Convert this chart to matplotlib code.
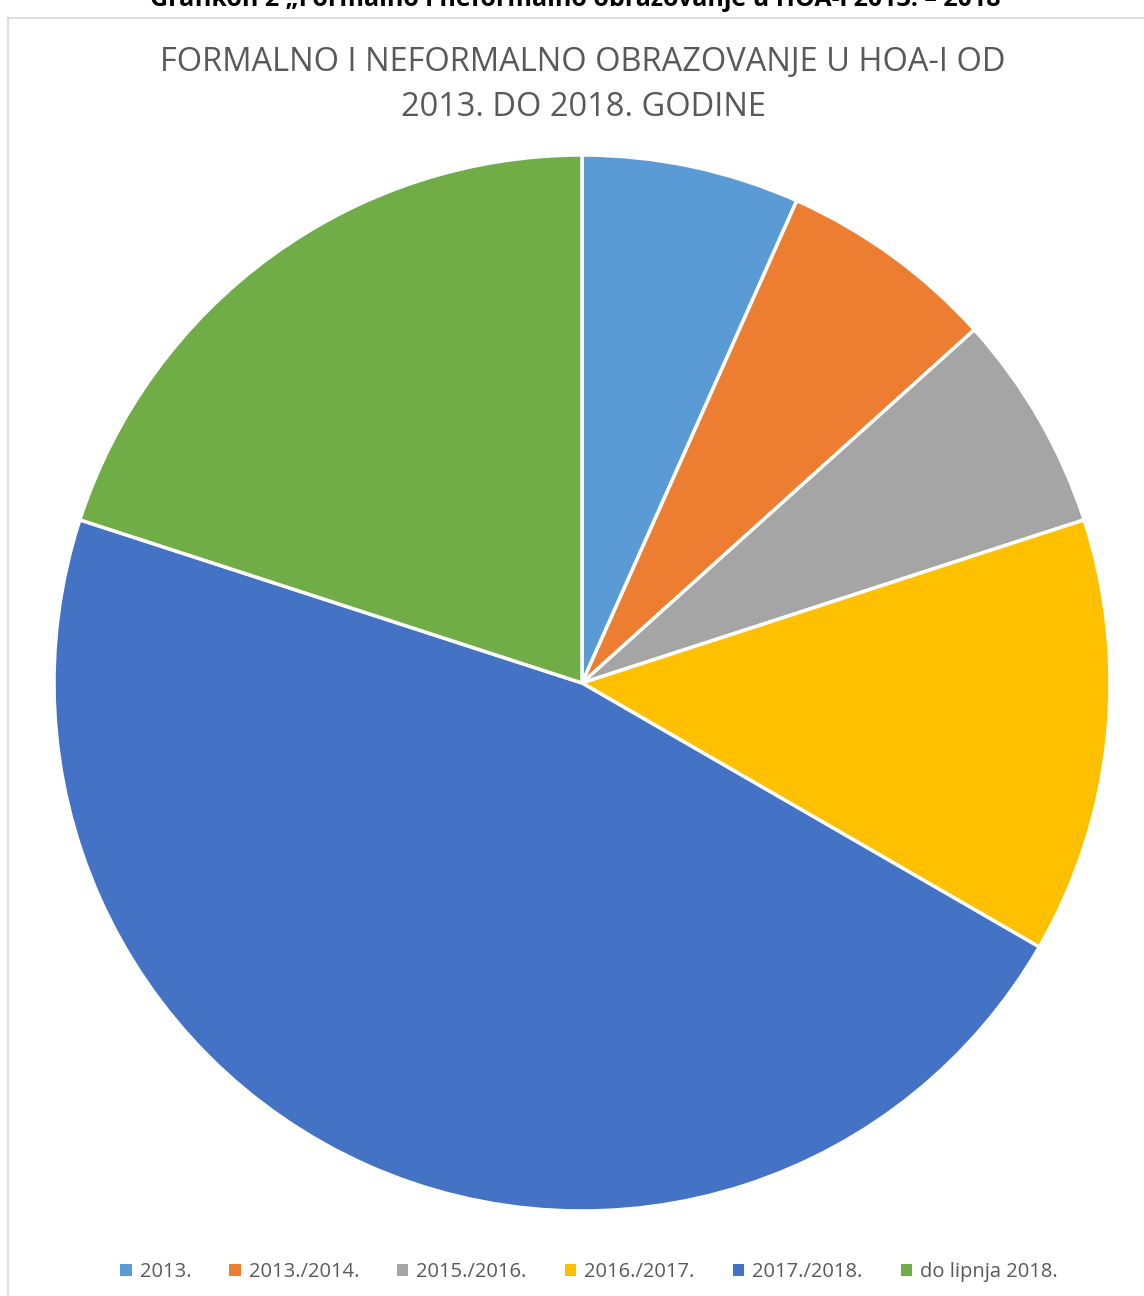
import matplotlib
matplotlib.use("Agg")
import matplotlib.pyplot as plt
from matplotlib.patches import Rectangle

labels = ["2013.", "2013./2014.", "2015./2016.", "2016./2017.", "2017./2018.", "do lipnja 2018."]
values = [1, 1, 1, 2, 7, 3]
colors = ["#5B9BD5", "#ED7D31", "#A5A5A5", "#FFC000", "#4472C4", "#70AD47"]
title = "FORMALNO I NEFORMALNO OBRAZOVANJE U HOA-I OD\n2013. DO 2018. GODINE"
header = "Grafikon 2 „Formalno i neformalno obrazovanje u HOA-i 2013. – 2018"

W, H = 1144, 1296
fig = plt.figure(figsize=(W/100, H/100), dpi=100)
fig.patch.set_facecolor("white")
fams = ["Liberation Sans Narrow", "Open Sans", "DejaVu Sans"]

# chart border
fig.add_artist(Rectangle((8/W, -0.01), 1.1, (H-18)/H + 0.01, transform=fig.transFigure,
                         fill=False, edgecolor="#D9D9D9", linewidth=1.2))

# clipped header (cut off at the top edge, as in the reference)
fig.text(575/W, 1 - 6/H, header, ha="center", va="baseline", fontsize=18,
         fontweight="bold", family=fams, color="black")

cx, cy, r = 582, 683, 528
ax = fig.add_axes([(cx - r)/W, (H - cy - r)/H, 2*r/W, 2*r/H])
ax.pie(values, colors=colors, startangle=90, counterclock=False,
       wedgeprops=dict(edgecolor="white", linewidth=2.5), radius=1)
ax.set_xlim(-1, 1); ax.set_ylim(-1, 1)
ax.set_aspect("equal")
ax.axis("off")

fig.text(583/W, 1 - 85/H, title, ha="center", va="center", fontsize=23.5,
         family=fams, color="#595959", linespacing=1.5)

handles = [Rectangle((0, 0), 1, 1, facecolor=c) for c in colors]
leg = fig.legend(handles, labels, loc="center", bbox_to_anchor=(589/W, 1 - 1272/H),
                 ncol=6, frameon=False, handlelength=0.55, handleheight=0.55,
                 handletextpad=0.4, columnspacing=1.9,
                 prop=dict(family=fams, size=14.5))
for t in leg.get_texts():
    t.set_color("#595959")

fig.savefig("out.png", dpi=100, facecolor="white")
